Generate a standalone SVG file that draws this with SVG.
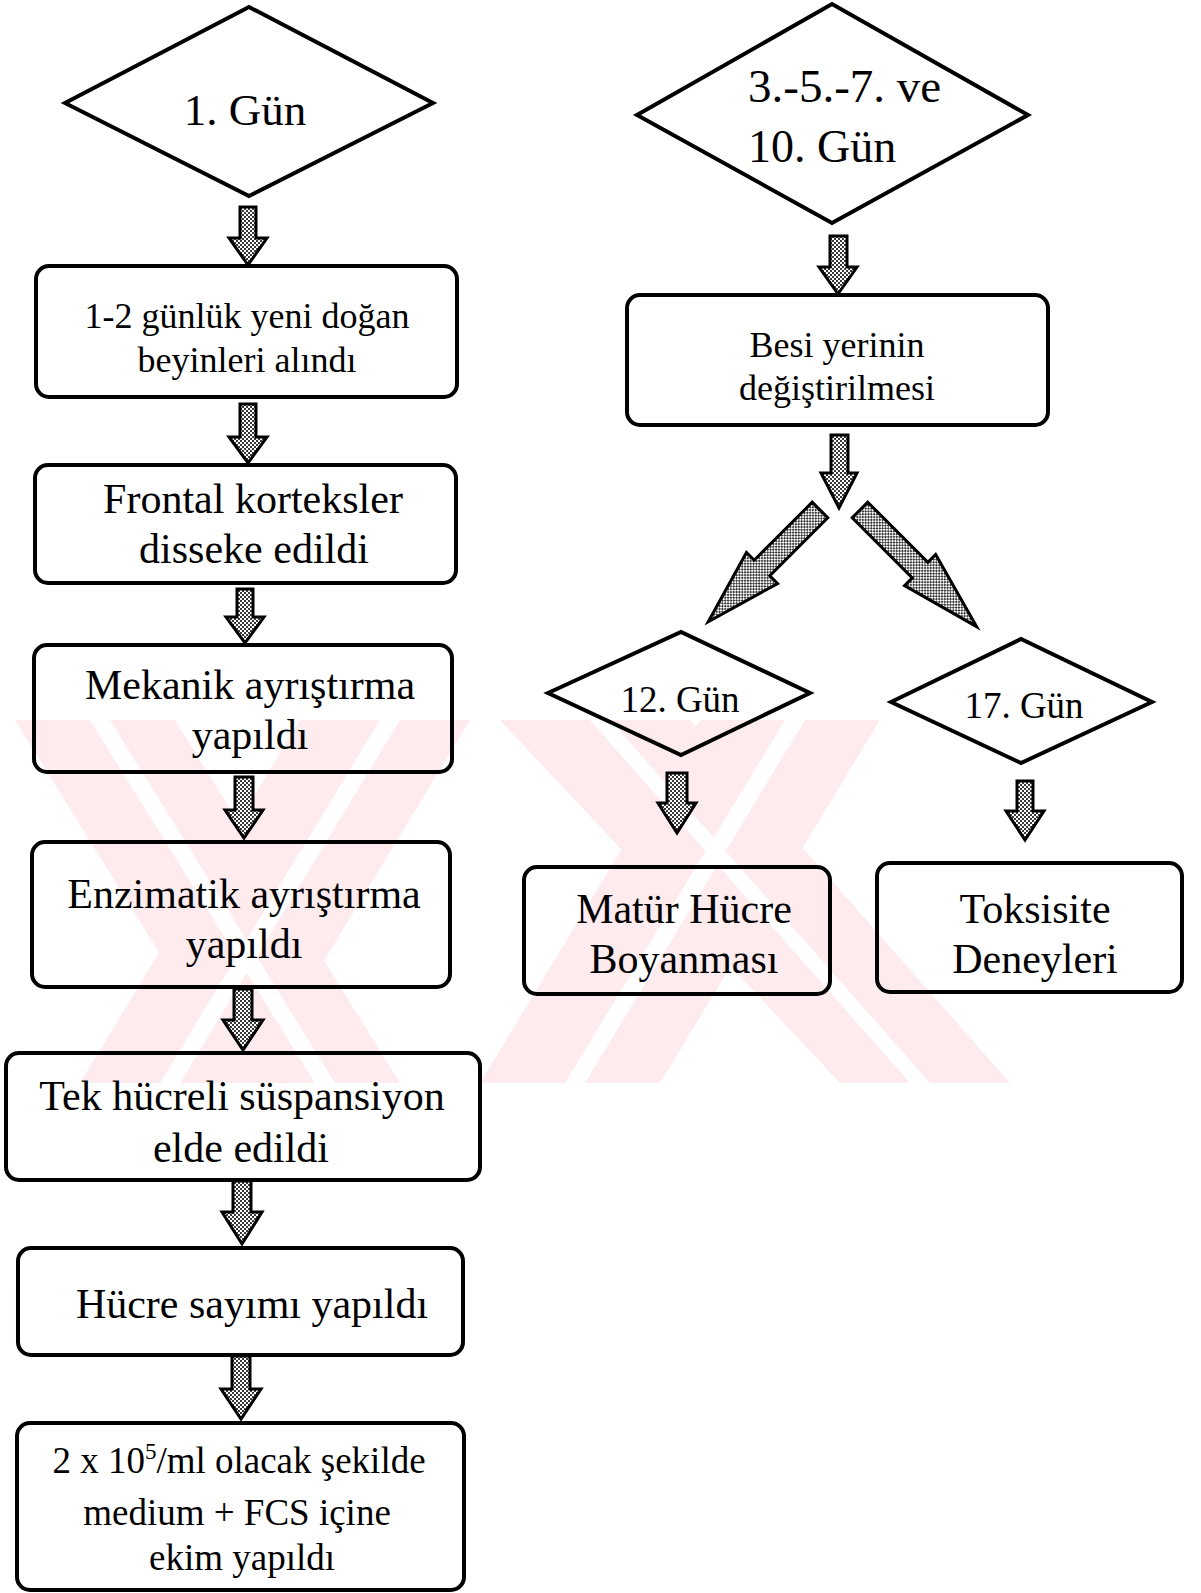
<svg xmlns="http://www.w3.org/2000/svg" width="1201" height="1593" viewBox="0 0 1201 1593">
<defs>
<pattern id="hatch" width="4" height="4" patternUnits="userSpaceOnUse">
<rect width="4" height="4" fill="#ffffff"/>
<rect x="0" y="0" width="2" height="2" fill="#3a3a3a"/>
<rect x="2" y="2" width="2" height="2" fill="#3a3a3a"/>
</pattern>
<clipPath id="band"><rect x="0" y="720" width="1201" height="363"/></clipPath>
</defs>
<style>
.box{fill:none;stroke:#000;stroke-width:4}
.dia{fill:none;stroke:#000;stroke-width:4;stroke-linejoin:miter}
.arr{fill:url(#hatch);stroke:#000;stroke-width:3;stroke-linejoin:miter}
.t{font-family:"Liberation Serif","Times New Roman",serif;fill:#000;text-anchor:middle}
.wm{fill:#fdebee}
.gap{fill:#fff}
</style>
<rect width="1201" height="1593" fill="#fff"/>
<g id="watermark" clip-path="url(#band)">
<polygon class="wm" points="15,720 175,720 400,1083 240,1083"/>
<polygon class="wm" points="300,720 470,720 250,1083 80,1083"/>
<polygon class="wm" points="500,720 690,720 1010,1083 840,1083"/>
<polygon class="wm" points="700,720 880,720 660,1083 480,1083"/>
<polygon class="gap" points="90,720 110,720 335,1083 315,1083"/>
<polygon class="gap" points="380,720 400,720 180,1083 160,1083"/>
<polygon class="gap" points="590,720 610,720 930,1083 910,1083"/>
<polygon class="gap" points="785,720 805,720 585,1083 565,1083"/>
</g>
<g id="connectors">
<polygon class="arr" points="240,207 256,207 256,238 267,238 248,265 229,238 240,238"/>
<polygon class="arr" points="240,404 256,404 256,437 267,437 248,463 229,437 240,437"/>
<polygon class="arr" points="237,589 253,589 253,617 264,617 245,643 226,617 237,617"/>
<polygon class="arr" points="235,777 253,777 253,810 263,810 244,838 225,810 235,810"/>
<polygon class="arr" points="234,989 252,989 252,1020 263,1020 243,1050 223,1020 234,1020"/>
<polygon class="arr" points="233,1181 251,1181 251,1212 262,1212 242,1244 222,1212 233,1212"/>
<polygon class="arr" points="232,1356 250,1356 250,1389 261,1389 241,1419 221,1389 232,1389"/>
<polygon class="arr" points="830,236 847,236 847,267 857,267 838,294 819,267 830,267"/>
<polygon class="arr" points="831,435 848,435 848,473 857,473 839,508 821,473 831,473"/>
<polygon class="arr" points="667,773 687,773 687,803 696,803 677,833 658,803 667,803"/>
<polygon class="arr" points="1017,781 1033,781 1033,811 1044,811 1025,840 1006,811 1017,811"/>
<polygon class="arr" transform="translate(820,510) rotate(135)" points="0,-11 82,-11 82,-22 158,0 82,22 82,11 0,11"/>
<polygon class="arr" transform="translate(860,510) rotate(45)" points="0,-11 85,-11 85,-22 165,0 85,22 85,11 0,11"/>
</g>
<g id="n_day1">
<polygon class="dia" points="65,103 249,7 433,103 249,196"/>
<text class="t" x="245" y="125" font-size="45">1. Gün</text>
</g>
<g id="n_day3">
<polygon class="dia" points="637,115 832,4 1028,115 832,223"/>
<text class="t" x="748" y="102" font-size="47" style="text-anchor:start">3.-5.-7. ve</text>
<text class="t" x="748" y="162" font-size="46" style="text-anchor:start">10. Gün</text>
</g>
<g id="n_brains">
<rect class="box" x="36" y="266" width="421" height="131" rx="13"/>
<text class="t" x="247" y="328" font-size="36">1-2 günlük yeni doğan</text>
<text class="t" x="247" y="372" font-size="36">beyinleri alındı</text>
</g>
<g id="n_frontal">
<rect class="box" x="35" y="465" width="421" height="118" rx="13"/>
<text class="t" x="253" y="513" font-size="42">Frontal korteksler</text>
<text class="t" x="254" y="563" font-size="42">disseke edildi</text>
</g>
<g id="n_mekanik">
<rect class="box" x="34" y="645" width="418" height="127" rx="13"/>
<text class="t" x="250" y="699" font-size="42">Mekanik ayrıştırma</text>
<text class="t" x="250" y="749" font-size="42">yapıldı</text>
</g>
<g id="n_enzimatik">
<rect class="box" x="32" y="842" width="418" height="145" rx="13"/>
<text class="t" x="244" y="908" font-size="42">Enzimatik ayrıştırma</text>
<text class="t" x="244" y="958" font-size="42">yapıldı</text>
</g>
<g id="n_suspansiyon">
<rect class="box" x="6" y="1053" width="474" height="127" rx="13"/>
<text class="t" x="242" y="1110" font-size="42">Tek hücreli süspansiyon</text>
<text class="t" x="241" y="1162" font-size="42">elde edildi</text>
</g>
<g id="n_sayim">
<rect class="box" x="18" y="1248" width="445" height="107" rx="13"/>
<text class="t" x="252" y="1318" font-size="42">Hücre sayımı yapıldı</text>
</g>
<g id="n_ekim">
<rect class="box" x="17" y="1423" width="447" height="167" rx="13"/>
<text class="t" x="239" y="1473" font-size="37">2 x 10<tspan font-size="23" dy="-14">5</tspan><tspan dy="14">/ml olacak şekilde</tspan></text>
<text class="t" x="237" y="1525" font-size="37">medium + FCS içine</text>
<text class="t" x="242" y="1570" font-size="37">ekim yapıldı</text>
</g>
<g id="n_besi">
<rect class="box" x="627" y="295" width="421" height="130" rx="13"/>
<text class="t" x="837" y="357" font-size="36">Besi yerinin</text>
<text class="t" x="837" y="400" font-size="36">değiştirilmesi</text>
</g>
<g id="n_day12">
<polygon class="dia" points="548,693 681,632 810,693 681,755"/>
<text class="t" x="680" y="712" font-size="37">12. Gün</text>
</g>
<g id="n_day17">
<polygon class="dia" points="891,702 1021,639 1152,702 1021,763"/>
<text class="t" x="1024" y="718" font-size="37">17. Gün</text>
</g>
<g id="n_matur">
<rect class="box" x="524" y="867" width="306" height="127" rx="13"/>
<text class="t" x="684" y="923" font-size="42">Matür Hücre</text>
<text class="t" x="684" y="973" font-size="42">Boyanması</text>
</g>
<g id="n_toksisite">
<rect class="box" x="877" y="863" width="305" height="129" rx="13"/>
<text class="t" x="1035" y="923" font-size="42">Toksisite</text>
<text class="t" x="1035" y="973" font-size="42">Deneyleri</text>
</g>
</svg>
